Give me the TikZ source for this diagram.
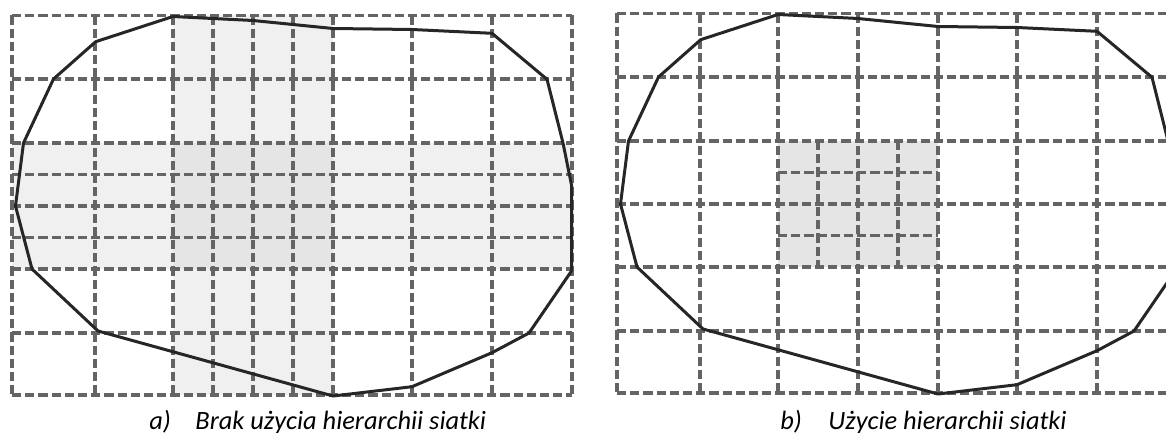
\documentclass[tikz,border=0pt]{standalone}
\usepackage{fontspec}
\setmainfont{Carlito}
\usepackage{tikz}
\usetikzlibrary{positioning}
\definecolor{gridgray}{RGB}{100,100,100}
\definecolor{outlinegray}{RGB}{38,38,38}
\definecolor{bandgray}{RGB}{240,240,240}
\definecolor{crossgray}{RGB}{229,229,229}

\tikzset{
  gridline/.style={draw=gridgray, line width=1.6pt, dash pattern=on 4.6pt off 2pt},
  outline/.style={draw=outlinegray, line width=1.5pt, line join=round},
  caption/.style={anchor=base west, inner sep=0pt, font=\itshape\fontsize{13.2}{15}\selectfont},
  % coarse grid and outer contour of one panel
  meshpanel/.pic={
    \foreach \cx in {12,95,173,253,333,412,492,572}
      \draw[gridline] (\cx,15.5) -- (\cx,395);
    \foreach \cy in {15.5,79,143,206,269,333,395}
      \draw[gridline] (12,\cy) -- (572,\cy);
    \draw[outline] (173,16.5) -- (253,20.5) -- (333,28.5) -- (412,29.5)
      -- (492,33.3) -- (547,79.3) -- (563,143) -- (571.5,185) -- (571.5,271)
      -- (529,333) -- (492,352.7) -- (412,386.7) -- (333,396) -- (98,331)
      -- (32,269) -- (15.5,206) -- (23.5,143) -- (53.5,79) -- (95.7,41.7) -- cycle;
  }
}

\begin{document}
\begin{tikzpicture}[x=0.5pt, y=-0.5pt]
  \useasboundingbox (0,0) rectangle (1166,433);
  \clip (0,0) rectangle (1166,433);

  % a) refinement bands over the whole domain
  \fill[bandgray] (173,15.5) rectangle (333,395);
  \fill[bandgray] (12,143) rectangle (572,269);
  \fill[crossgray] (173,143) rectangle (333,269);
  \foreach \cx in {213,293}
    \draw[gridline] (\cx,15.5) -- (\cx,395);
  \foreach \cy in {174.5,237.5}
    \draw[gridline] (12,\cy) -- (572,\cy);
  \pic at (0,0) {meshpanel};

  % b) local refinement only
  \fill[crossgray] (778,141) rectangle (938,267);
  \foreach \cx in {818,898}
    \draw[gridline] (\cx,141) -- (\cx,267);
  \foreach \cy in {172.5,235.5}
    \draw[gridline] (778,\cy) -- (938,\cy);
  \pic at (605,-2) {meshpanel};

  \node[caption] (capa) at (149,429) {\makebox[23pt][l]{a)}Brak użycia hierarchii siatki};
  \node[caption] (capb) at (780,429) {\makebox[24pt][l]{b)}Użycie hierarchii siatki};
\end{tikzpicture}
\end{document}
